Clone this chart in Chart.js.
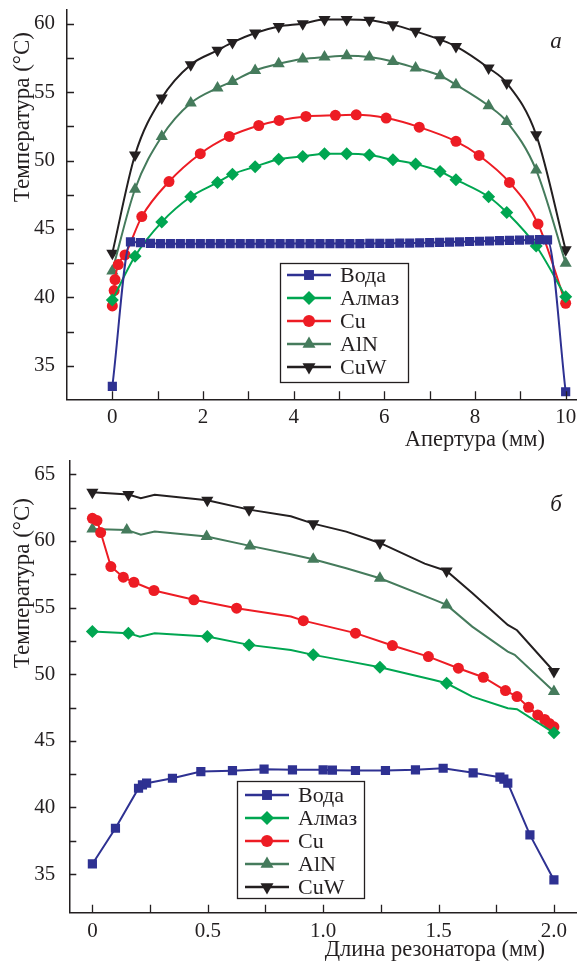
<!DOCTYPE html>
<html>
<head>
<meta charset="utf-8">
<script src="https://cdn.jsdelivr.net/npm/chart.js@4.4.0/dist/chart.umd.min.js"></script>
<style>
  html, body { margin: 0; padding: 0; background: #fff; }
  #wrap { position: relative; width: 577px; height: 963px; }
  canvas { position: absolute; left: 0; }
</style>
</head>
<body>
<div id="wrap">
  <canvas id="chartA" width="577" height="460" style="top:0"></canvas>
  <canvas id="chartB" width="577" height="503" style="top:460px"></canvas>
</div>
<script>
// ---- data: panel a (aperture) ----
const seriesNames = ['Вода', 'Алмаз', 'Cu', 'AlN', 'CuW'];

const aWaterX = [0, 0.4, 0.62, 0.84, 1.06, 1.28, 1.5, 1.72, 1.94, 2.16, 2.38, 2.6, 2.82, 3.04, 3.26, 3.48, 3.7, 3.92, 4.14, 4.36, 4.58, 4.8, 5.02, 5.24, 5.46, 5.68, 5.9, 6.12, 6.34, 6.56, 6.78, 7.0, 7.22, 7.44, 7.66, 7.88, 8.1, 8.32, 8.54, 8.76, 8.98, 9.2, 9.42, 9.6, 10];
const aWaterY = [33.5, 44.05, 44.0, 43.95, 43.93, 43.92, 43.92, 43.92, 43.92, 43.92, 43.92, 43.92, 43.92, 43.92, 43.92, 43.93, 43.93, 43.93, 43.93, 43.93, 43.93, 43.93, 43.93, 43.93, 43.93, 43.94, 43.95, 43.95, 43.96, 43.97, 43.98, 44.0, 44.02, 44.04, 44.06, 44.08, 44.1, 44.12, 44.14, 44.16, 44.18, 44.2, 44.22, 44.2, 33.1];

const aMidX = [0, 0.5, 1.09, 1.73, 2.32, 2.65, 3.15, 3.67, 4.2, 4.68, 5.17, 5.67, 6.19, 6.69, 7.23, 7.58, 8.3, 8.7, 9.35, 10];
const aDiamondY = [39.8, 43.0, 45.5, 47.35, 48.4, 49.0, 49.55, 50.1, 50.3, 50.5, 50.5, 50.4, 50.05, 49.75, 49.2, 48.6, 47.35, 46.2, 43.75, 40.05];
const aAlnY = [41.93, 47.9, 51.76, 54.2, 55.3, 55.78, 56.58, 57.07, 57.42, 57.56, 57.66, 57.56, 57.24, 56.76, 56.2, 55.54, 54.0, 52.85, 49.3, 42.5];
const aCuwY = [43.23, 50.4, 54.56, 57.0, 58.05, 58.63, 59.32, 59.8, 60.0, 60.3, 60.3, 60.25, 59.93, 59.44, 58.83, 58.34, 56.76, 55.66, 51.88, 43.47];

const aCuX = [0, 0.04, 0.06, 0.13, 0.28, 0.65, 1.25, 1.94, 2.58, 3.23, 3.68, 4.27, 4.92, 5.38, 6.04, 6.77, 7.58, 8.09, 8.76, 9.39, 10];
const aCuY = [39.37, 40.5, 41.3, 42.4, 43.1, 45.9, 48.46, 50.5, 51.76, 52.56, 52.93, 53.22, 53.3, 53.34, 53.1, 52.44, 51.4, 50.37, 48.4, 45.37, 39.57];

const aXTicks = [0, 1, 2, 3, 4, 5, 6, 7, 8, 9, 10];
const aXLabels = [0, 2, 4, 6, 8, 10];
const aYTicks = [35, 37.5, 40, 42.5, 45, 47.5, 50, 52.5, 55, 57.5, 60];
const aYLabels = [35, 40, 45, 50, 55, 60];

// ---- data: panel б (resonator length) ----
const bWaterX = [0, 0.1, 0.2, 0.217, 0.235, 0.347, 0.47, 0.607, 0.744, 0.867, 1.0, 1.04, 1.14, 1.27, 1.4, 1.52, 1.65, 1.766, 1.783, 1.8, 1.896, 2.0];
const bWaterY = [35.76, 38.44, 41.44, 41.69, 41.82, 42.19, 42.69, 42.76, 42.87, 42.82, 42.82, 42.8, 42.77, 42.77, 42.82, 42.94, 42.6, 42.27, 42.12, 41.82, 37.94, 34.56];

const bDiamondX = [0, 0.156, 0.206, 0.27, 0.498, 0.679, 0.86, 0.957, 1.1, 1.246, 1.48, 1.535, 1.646, 1.8, 1.84, 2.0];
const bDiamondY = [53.2, 53.08, 52.82, 53.08, 52.82, 52.2, 51.82, 51.45, 51.0, 50.52, 49.57, 49.32, 48.32, 47.45, 47.37, 45.6];
const bDiamondMarks = [0, 1, 4, 5, 7, 9, 11, 15];

const bCuX = [0, 0.02, 0.036, 0.08, 0.134, 0.18, 0.267, 0.44, 0.625, 0.86, 0.914, 1.14, 1.3, 1.456, 1.586, 1.694, 1.79, 1.84, 1.89, 1.93, 1.96, 1.98, 2.0];
const bCuY = [61.7, 61.53, 60.63, 58.08, 57.28, 56.9, 56.28, 55.58, 54.95, 54.33, 54.02, 53.08, 52.15, 51.32, 50.45, 49.77, 48.77, 48.32, 47.52, 46.94, 46.6, 46.3, 46.05];
const bCuMarks = [0, 1, 2, 3, 4, 5, 6, 7, 8, 10, 11, 12, 13, 14, 15, 16, 17, 18, 19, 20, 21, 22];

const bAlnX = [0, 0.149, 0.21, 0.27, 0.495, 0.683, 0.86, 0.957, 1.1, 1.246, 1.48, 1.535, 1.646, 1.8, 1.83, 2.0];
const bAlnY = [60.9, 60.83, 60.46, 60.7, 60.33, 59.63, 59.0, 58.63, 57.95, 57.2, 55.6, 55.2, 53.57, 51.7, 51.45, 48.7];
const bAlnMarks = [0, 1, 4, 5, 7, 9, 11, 15];

const bCuwX = [0, 0.156, 0.21, 0.27, 0.498, 0.679, 0.86, 0.957, 1.1, 1.246, 1.44, 1.535, 1.646, 1.8, 1.84, 2.0];
const bCuwY = [63.65, 63.48, 63.2, 63.46, 63.05, 62.35, 61.85, 61.3, 60.7, 59.85, 58.3, 57.75, 56.1, 53.7, 53.3, 50.2];
const bCuwMarks = [0, 1, 4, 5, 7, 9, 11, 15];

const bXTicks = [0, 0.25, 0.5, 0.75, 1, 1.25, 1.5, 1.75, 2];
const bXMajor = [0, 0.5, 1, 1.5, 2];
const bXLabels = ['0', '0.5', '1.0', '1.5', '2.0'];
const bYTicks = [35, 37.5, 40, 42.5, 45, 47.5, 50, 52.5, 55, 57.5, 60, 62.5, 65];
const bYLabels = [35, 40, 45, 50, 55, 60, 65];

// ---- styles ----
const FONT = 'Liberation Serif';
const INK = '#231f20';
const looks = [
  { color: '#2e3192', style: 'rect', rot: 0, r: 6.5 },
  { color: '#00a651', style: 'rectRot', rot: 0, r: 6.5 },
  { color: '#ed1c24', style: 'circle', rot: 0, r: 5.5 },
  { color: '#457b5c', style: 'triangle', rot: 0, r: 7 },
  { color: '#231f20', style: 'triangle', rot: 180, r: 7 }
];

function makeSet(k, xs, ys, marks, smooth) {
  const s = looks[k];
  return {
    label: seriesNames[k],
    data: xs.map((x, i) => ({ x: x, y: ys[i] })),
    borderColor: s.color,
    backgroundColor: s.color,
    borderWidth: 2,
    pointStyle: s.style,
    pointRotation: s.rot,
    pointRadius: c => (!marks || marks.includes(c.dataIndex)) ? s.r : 0,
    pointHoverRadius: s.r,
    pointBorderWidth: 0,
    cubicInterpolationMode: smooth ? 'monotone' : 'default',
    tension: 0
  };
}

// inward ticks, titles, panel letter and legend box
const decor = {
  id: 'decor',
  afterDraw(chart, args, o) {
    const ctx = chart.ctx;
    const xs = chart.scales.x, ys = chart.scales.y;
    ctx.save();
    ctx.strokeStyle = INK;
    ctx.lineWidth = 1.3;
    ctx.beginPath();
    xs.ticks.forEach(t => {
      const px = Math.round(xs.getPixelForValue(t.value)) + 0.5;
      ctx.moveTo(px, xs.top);
      ctx.lineTo(px, xs.top - 8);
    });
    ys.ticks.forEach(t => {
      const py = Math.round(ys.getPixelForValue(t.value)) + 0.5;
      ctx.moveTo(ys.right, py);
      ctx.lineTo(ys.right + 7, py);
    });
    ctx.stroke();

    ctx.fillStyle = INK;
    ctx.textBaseline = 'middle';
    ctx.font = '22.5px "' + FONT + '"';
    ctx.textAlign = 'right';
    ctx.fillText(o.xTitle, o.xTitleRight, o.xTitleY);

    ctx.save();
    ctx.font = '23px "' + FONT + '"';
    ctx.translate(o.yTitleX, o.yTitleTop);
    ctx.rotate(-Math.PI / 2);
    ctx.textAlign = 'right';
    ctx.fillText(o.yTitle, 0, 0);
    ctx.restore();

    ctx.font = 'italic 23px "' + FONT + '"';
    ctx.textAlign = 'center';
    ctx.fillText(o.letter, o.letterX, o.letterY);

    // legend
    const lg = o.legend;
    ctx.fillStyle = '#fff';
    ctx.fillRect(lg.x, lg.y, lg.w, lg.h);
    ctx.strokeStyle = INK;
    ctx.lineWidth = 1.3;
    ctx.strokeRect(lg.x + 0.5, lg.y + 0.5, lg.w, lg.h);
    ctx.font = '22px "' + FONT + '"';
    ctx.textAlign = 'left';
    chart.data.datasets.forEach((ds, k) => {
      const s = looks[k];
      const y = lg.row0 + k * lg.step;
      ctx.strokeStyle = s.color;
      ctx.lineWidth = 2.5;
      ctx.beginPath();
      ctx.moveTo(lg.lineX0, y);
      ctx.lineTo(lg.lineX1, y);
      ctx.stroke();
      ctx.fillStyle = s.color;
      Chart.helpers.drawPoint(ctx, { pointStyle: s.style, rotation: s.rot, radius: s.r + 0.5, borderWidth: 0 },
        (lg.lineX0 + lg.lineX1) / 2, y);
      ctx.fillStyle = INK;
      ctx.fillText(ds.label, lg.textX, y + 1);
    });
    ctx.restore();
  }
};

function axis(min, max, tickList, label, fixSize, pad, horizontal) {
  return {
    type: 'linear',
    min: min,
    max: max,
    afterBuildTicks: s => { s.ticks = tickList.map(v => ({ value: v })); },
    afterFit: s => {
      if (horizontal) s.height = fixSize; else s.width = fixSize;
      // no automatic room for the end labels, the plot area is set by hand
      s.paddingTop = 0; s.paddingBottom = 0; s.paddingLeft = 0; s.paddingRight = 0;
    },
    grid: { display: true, drawOnChartArea: false, drawTicks: false },
    border: { display: true, color: INK, width: 1.5 },
    ticks: {
      autoSkip: false,
      maxRotation: 0,
      padding: pad,
      color: INK,
      font: { family: FONT, size: 21 },
      callback: label
    }
  };
}

const baseOpts = {
  responsive: false,
  animation: false,
  events: [],
  plugins: { legend: { display: false }, tooltip: { enabled: false } }
};

new Chart(document.getElementById('chartA'), {
  type: 'line',
  data: {
    datasets: [
      makeSet(0, aWaterX, aWaterY, null, true),
      makeSet(1, aMidX, aDiamondY, null, true),
      makeSet(2, aCuX, aCuY, null, true),
      makeSet(3, aMidX, aAlnY, null, true),
      makeSet(4, aMidX, aCuwY, null, true)
    ]
  },
  options: Object.assign({}, baseOpts, {
    layout: { autoPadding: false, padding: { top: 10, left: 0, right: 0, bottom: 0 } },
    scales: {
      x: axis(-1, 10.25, aXTicks, v => aXLabels.includes(v) ? String(v) : '', 60.7, 6, true),
      y: axis(32.55, 61, aYTicks, v => aYLabels.includes(v) ? String(v) : '', 67, 12, false)
    },
    plugins: Object.assign({}, baseOpts.plugins, {
      decor: {
        xTitle: 'Апертура (мм)', xTitleRight: 545, xTitleY: 440,
        yTitle: 'Температура (°C)', yTitleX: 23, yTitleTop: 32,
        letter: 'а', letterX: 556, letterY: 42,
        legend: { x: 280, y: 263, w: 128, h: 119, row0: 275, step: 23, lineX0: 287, lineX1: 331, textX: 340 }
      }
    })
  }),
  plugins: [decor]
});

new Chart(document.getElementById('chartB'), {
  type: 'line',
  data: {
    datasets: [
      makeSet(0, bWaterX, bWaterY, null, false),
      makeSet(1, bDiamondX, bDiamondY, bDiamondMarks, false),
      makeSet(2, bCuX, bCuY, bCuMarks, false),
      makeSet(3, bAlnX, bAlnY, bAlnMarks, false),
      makeSet(4, bCuwX, bCuwY, bCuwMarks, false)
    ]
  },
  options: Object.assign({}, baseOpts, {
    layout: { autoPadding: false, padding: { top: 1, left: 0, right: 0, bottom: 0 } },
    scales: {
      x: axis(-0.1, 2.1, bXTicks, v => { const i = bXMajor.indexOf(v); return i >= 0 ? bXLabels[i] : ''; }, 50.3, 6, true),
      y: axis(32.1, 66, bYTicks, v => bYLabels.includes(v) ? String(v) : '', 69.3, 14, false)
    },
    plugins: Object.assign({}, baseOpts.plugins, {
      decor: {
        xTitle: 'Длина резонатора (мм)', xTitleRight: 545, xTitleY: 490,
        yTitle: 'Температура (°C)', yTitleX: 23, yTitleTop: 38,
        letter: 'б', letterX: 556, letterY: 45,
        legend: { x: 237, y: 321, w: 127, h: 117, row0: 335, step: 23, lineX0: 245, lineX1: 289, textX: 298 }
      }
    })
  }),
  plugins: [decor]
});
</script>
</body>
</html>
